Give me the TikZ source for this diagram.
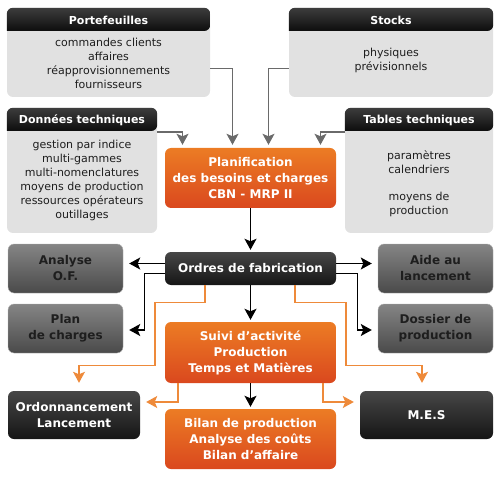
\documentclass[tikz,border=0pt]{standalone}
\usepackage{fontspec}
\setmainfont{DejaVu Sans}
\usetikzlibrary{arrows.meta}
\usepackage{xcolor}

\definecolor{bodygray}{HTML}{E1E1E1}
\definecolor{hdrtop}{HTML}{3D3D3D}
\definecolor{hdrbot}{HTML}{0D0D0D}
\definecolor{orangetop}{HTML}{EC7C24}
\definecolor{orangebot}{HTML}{DA481E}
\definecolor{graytop}{HTML}{858585}
\definecolor{graybot}{HTML}{4A4A4A}
\definecolor{darktop}{HTML}{474747}
\definecolor{darkbot}{HTML}{151515}
\definecolor{linkgray}{HTML}{6A6A6A}
\definecolor{linkorange}{HTML}{EE8A3A}
\definecolor{textdark}{HTML}{1E1E1E}

\begin{document}
\begin{tikzpicture}[x=1pt, y=-1pt,
        % light gray panels with a black title strip
        panel/.style={rectangle, rounded corners=6pt, fill=bodygray, inner sep=0pt},
        strip/.style={top color=hdrtop, bottom color=hdrbot},
        title/.style={text=white, font=\bfseries\fontsize{11}{13}\selectfont},
        lines/.style={text=textdark, align=center, font=\fontsize{11}{14}\selectfont},
        % the boxes of the flow
        orangebox/.style={rectangle, rounded corners=6pt, top color=orangetop, bottom color=orangebot, text=white, align=center, font=\bfseries\fontsize{12}{16}\selectfont, minimum width=171, inner sep=0pt},
        blackbox/.style={rectangle, rounded corners=6pt, top color=darktop, bottom color=darkbot, text=white, align=center, font=\bfseries\fontsize{12}{16}\selectfont, inner sep=0pt},
        graybox/.style={rectangle, rounded corners=6pt, top color=graytop, bottom color=graybot, draw=gray!60, text=textdark, align=center, font=\bfseries\fontsize{12}{16}\selectfont, minimum width=115, minimum height=49, inner sep=0pt},
        % the connectors
        link/.style={draw=linkgray, line width=1.1pt, -{Stealth[length=11pt, width=12pt, inset=2.5pt]}, shorten >=3pt},
        flow/.style={draw=black, line width=1.3pt, -{Stealth[length=11pt, width=12pt, inset=2.5pt]}, shorten >=2pt},
        side/.style={draw=linkorange, line width=1.1pt, -{Stealth[length=11pt, width=12pt, inset=2.5pt]}, shorten >=8pt}
    ]
    \useasboundingbox (0,0) rectangle (500,478);

    % --- THE PANELS ---
    \node (porte) [panel, minimum width=203, minimum height=89] at (108.5,52.5) {};
    \path[strip] (porte.west |- 0,31) [rounded corners=6pt] -- (porte.north west) -- (porte.north east) -- (porte.east |- 0,31) [sharp corners] -- cycle;
    \node (porteT) [title] at (108.5,20) {Portefeuilles};
    \node (porteL) [lines] at (108.5,63) {commandes clients\\affaires\\réapprovisionnements\\fournisseurs};

    \node (stocks) [panel, minimum width=204, minimum height=89] at (391,52.5) {};
    \path[strip] (stocks.west |- 0,31) [rounded corners=6pt] -- (stocks.north west) -- (stocks.north east) -- (stocks.east |- 0,31) [sharp corners] -- cycle;
    \node (stocksT) [title] at (391,20) {Stocks};
    \node (stocksL) [lines] at (391,60) {physiques\\prévisionnels};

    \node (donnees) [panel, minimum width=150, minimum height=125] at (82,170.5) {};
    \path[strip] (donnees.west |- 0,131) [rounded corners=6pt] -- (donnees.north west) -- (donnees.north east) -- (donnees.east |- 0,131) [sharp corners] -- cycle;
    \node (donneesT) [title] at (82,120) {Données techniques};
    \node (donneesL) [lines] at (82,180) {gestion par indice\\multi-gammes\\multi-nomenclatures\\moyens de production\\ressources opérateurs\\outillages};

    \node (tables) [panel, minimum width=148, minimum height=125] at (419,170.5) {};
    \path[strip] (tables.west |- 0,131) [rounded corners=6pt] -- (tables.north west) -- (tables.north east) -- (tables.east |- 0,131) [sharp corners] -- cycle;
    \node (tablesT) [title] at (419,120) {Tables techniques};
    \node (tablesL) [lines] at (419,183.5) {paramètres\\calendriers\\[13pt]moyens de\\production};

    % --- THE FLOW BOXES ---
    \node (plan) [orangebox, minimum height=60] at (250.5,178) {Planification\\des besoins et charges\\CBN - MRP II};
    \node (ordres) [blackbox, minimum width=171, minimum height=33] at (250.5,268.5) {Ordres de fabrication};
    \node (suivi) [orangebox, minimum height=61] at (250.5,352.5) {Suivi d’activité\\Production\\Temps et Matières};
    \node (bilan) [orangebox, minimum height=60] at (250.5,439) {Bilan de production\\Analyse des coûts\\Bilan d’affaire};

    \node (analyse) [graybox] at (65.5,268.5) {Analyse\\O.F.};
    \node (charges) [graybox] at (65.5,328.5) {Plan\\de charges};
    \node (aide) [graybox] at (435.5,268.5) {Aide au\\lancement};
    \node (dossier) [graybox] at (435.5,328.5) {Dossier de\\production};

    \node (ordo) [blackbox, minimum width=132, minimum height=48] at (74,415) {Ordonnancement\\Lancement};
    \node (mes) [blackbox, minimum width=133, minimum height=48] at (426.5,415) {M.E.S};

    % --- THE CONNECTORS ---
    \draw [link] ([yshift=-16pt]porte.east) -| ([xshift=-18pt]plan.north);
    \draw [link] ([yshift=-16pt]stocks.west) -| ([xshift=18pt]plan.north);
    \draw [link] ([yshift=38.5pt]donnees.east) -| ([xshift=-68pt]plan.north);
    \draw [link] ([yshift=38.5pt]tables.west) -| ([xshift=70pt]plan.north);

    \draw [flow] (plan) -- (ordres);
    \draw [flow] (ordres) -- (suivi);
    \draw [flow] (suivi) -- (bilan);

    \draw [flow, shorten >=6pt] ([yshift=5pt]ordres.west) -- ([yshift=5pt]analyse.east);
    \draw [flow, shorten >=6pt] ([yshift=-5pt]ordres.west) -- ++(-20,0) |- ([yshift=-1.5pt]charges.east);
    \draw [flow, shorten >=6pt] ([yshift=5pt]ordres.east) -- ([yshift=5pt]aide.west);
    \draw [flow, shorten >=6pt] ([yshift=-5pt]ordres.east) -- ++(21,0) |- ([yshift=-1.5pt]dossier.west);

    \draw [side] ([xshift=-45.5pt]ordres.south) -- ++(0,17) -| ++(-50,63) -| ([xshift=5pt]ordo.north);
    \draw [side] ([xshift=44.5pt]ordres.south) -- ++(0,17) -| ++(51,63) -| ([xshift=-4.5pt]mes.north);
    \draw [side, shorten >=6pt] ([xshift=-72.5pt]suivi.south) |- ([yshift=13pt]ordo.east);
    \draw [side, shorten >=6pt] ([xshift=72.5pt]suivi.south) |- ([yshift=13pt]mes.west);

\end{tikzpicture}
\end{document}
